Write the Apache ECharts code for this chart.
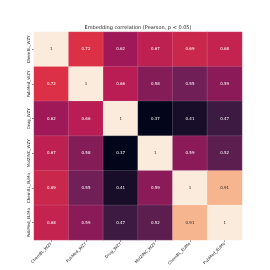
<!DOCTYPE html>
<html><head><meta charset="utf-8">
<script src="https://cdn.jsdelivr.net/npm/echarts@6/dist/echarts.min.js"></script>
<style>html,body{margin:0;padding:0;background:#fff}#c{width:270px;height:270px}</style>
</head><body><div id="c"></div>
<script>
const labels = ["ChemBL_WZY","PubMed_WZY","Drug_WZY","MolZINC_WZY","ChemBL_EUMo","PubMed_EUMo"];
const corr = [
  [1, 0.72, 0.62, 0.67, 0.69, 0.68],
  [0.72, 1, 0.66, 0.58, 0.55, 0.59],
  [0.62, 0.66, 1, 0.37, 0.41, 0.47],
  [0.67, 0.58, 0.37, 1, 0.59, 0.52],
  [0.69, 0.55, 0.41, 0.59, 1, 0.91],
  [0.68, 0.59, 0.47, 0.52, 0.91, 1]
];
const title = "Embedding correlation (Pearson, p < 0.05)";
const rocket = ['#03051a','#35193e','#701f57','#ad1759','#e13342','#f37651','#f6b48f','#faebdd'];
const vmin = 0.37, vmax = 1;

const data = [];
corr.forEach((row, i) => row.forEach((v, j) => data.push([j, i, v])));

const chart = echarts.init(document.getElementById('c'), null, {renderer:'canvas'});
chart.setOption({
  animation: false,
  title: {text: title, left: 138, top: 25, padding: 0, textAlign: 'center',
    textStyle: {fontSize: 5, fontWeight: 'normal', color: '#222', fontFamily: 'DejaVu Sans'}},
  grid: {left: 34, top: 32, width: 208, height: 208},
  xAxis: {type: 'category', data: labels, axisLine: {show: false},
    axisTick: {show: true, length: 2, alignWithLabel: true, lineStyle: {color: '#333', width: 0.5}},
    axisLabel: {rotate: 45, fontSize: 4, color: '#222', margin: 3, fontFamily: 'DejaVu Sans', interval: 0},
    splitLine: {show: false}},
  yAxis: {type: 'category', data: labels, inverse: true, axisLine: {show: false},
    axisTick: {show: true, length: 2, alignWithLabel: true, lineStyle: {color: '#333', width: 0.5}},
    axisLabel: {rotate: 90, fontSize: 4, color: '#222', margin: 3, fontFamily: 'DejaVu Sans', interval: 0},
    splitLine: {show: false}},
  visualMap: {show: false, min: vmin, max: vmax, dimension: 2, inRange: {color: rocket}},
  series: [{
    type: 'heatmap',
    data: data.map(d => ({value: d, label: {color: (d[2] - vmin) / (vmax - vmin) > 0.75 ? '#262626' : '#ffffff'}})),
    itemStyle: {borderColor: 'rgba(255,255,255,0.25)', borderWidth: 0.5},
    label: {show: true, fontSize: 4, fontFamily: 'DejaVu Sans',
      formatter: p => String(p.value[2])}
  }]
});
</script></body></html>
